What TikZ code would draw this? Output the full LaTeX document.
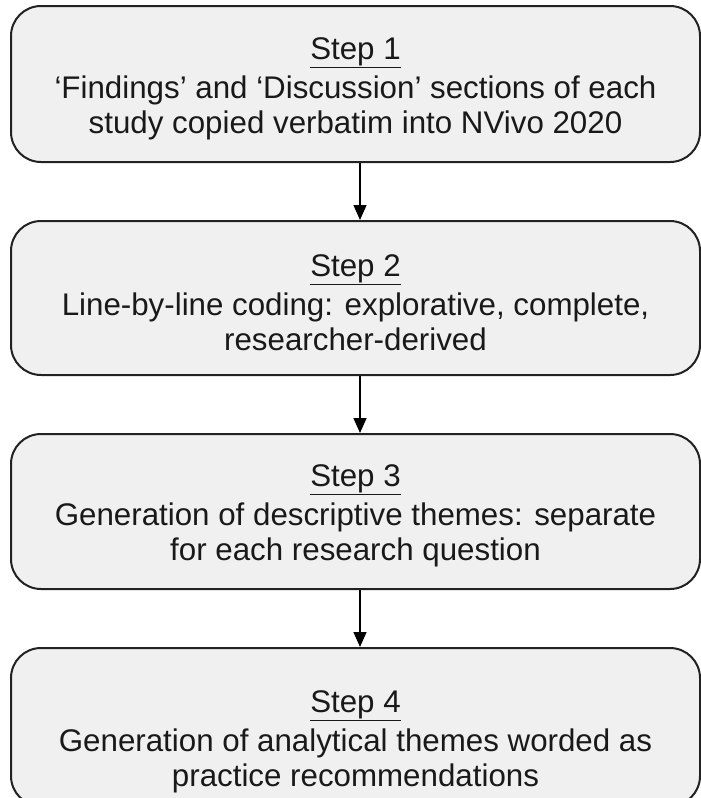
\documentclass[tikz,border=0pt]{standalone}
\usepackage{fontspec}
\setmainfont{Liberation Sans}
\usetikzlibrary{arrows.meta}
\definecolor{boxfill}{HTML}{F0F0F0}
\definecolor{boxline}{HTML}{222222}
% underlined step heading, with some extra room above it
\newcommand{\steptitle}[2][31pt]{\rule{0pt}{#1}\underline{#2}\\[4pt]}
\begin{document}
\begin{tikzpicture}[x=1pt,y=-1pt,
  stepbox/.style={draw=boxline, line width=2pt, fill=boxfill, rounded corners=30pt,
    minimum width=689pt, inner sep=0pt, align=center,
    font=\fontsize{31.3}{35}\selectfont, text=black!90},
  flow/.style={draw=black, line width=1.5pt, -{Triangle[length=15pt,width=13pt]}}]
  \useasboundingbox (0,0) rectangle (701,798);
  \fill[white] (0,0) rectangle (701,798);

  \node[stepbox, minimum height=156pt] (s1) at (355.5,84)
    {\steptitle{Step 1}‘Findings’ and ‘Discussion’ sections of each\\study copied verbatim into NVivo 2020};
  \node[stepbox, minimum height=154pt] (s2) at (355.5,298)
    {\steptitle{Step 2}Line-by-line coding: explorative, complete,\\researcher-derived};
  \node[stepbox, minimum height=155pt] (s3) at (355.5,511.5)
    {\steptitle{Step 3}Generation of descriptive themes: separate\\for each research question};
  \node[stepbox, minimum height=158pt] (s4) at (355.5,727)
    {\steptitle[51pt]{Step 4}Generation of analytical themes worded as\\practice recommendations};

  \draw[flow] (s1.south -| 360,0) -- (s2.north -| 360,0);
  \draw[flow] (s2.south -| 360,0) -- (s3.north -| 360,0);
  \draw[flow] (s3.south -| 360,0) -- (s4.north -| 360,0);
\end{tikzpicture}
\end{document}
